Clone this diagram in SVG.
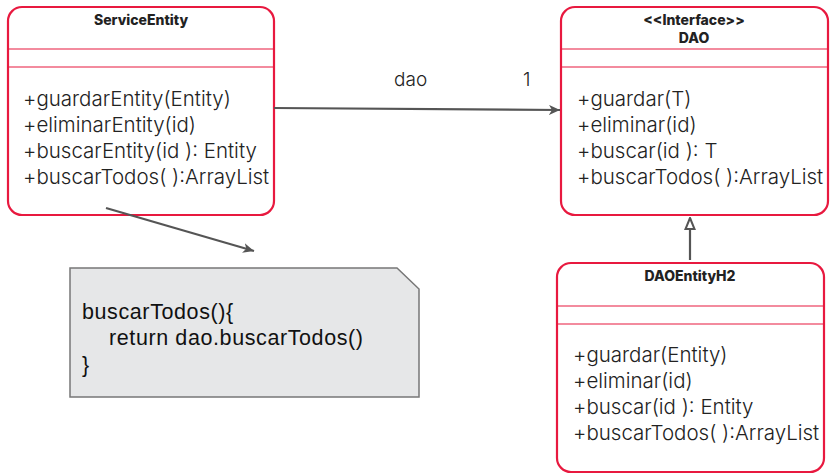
<svg xmlns="http://www.w3.org/2000/svg" width="833" height="475" viewBox="0 0 833 475">
<defs>
<style>
.box{fill:#fff;stroke:#e8193f;stroke-width:2.2}
.div{stroke:#e8193f;stroke-width:1.2}
.title{font-family:Inter,"Noto Sans",sans-serif;font-weight:800;font-size:14px;fill:#222;text-anchor:middle}
.m{font-family:Inter,"Noto Sans",sans-serif;font-weight:300;font-size:20.5px;fill:#222}
.lbl{font-family:Inter,"Noto Sans",sans-serif;font-weight:300;font-size:19px;fill:#222}
.conn{stroke:#555;stroke-width:2.2;fill:none}
.note{fill:#e6e7e8;stroke:#777;stroke-width:1.5}
.nt{font-family:"Liberation Sans",Arial,sans-serif;font-size:21.5px;letter-spacing:0.6px;fill:#111}
</style>
<marker id="open" viewBox="0 0 12 10" refX="11" refY="5" markerWidth="12" markerHeight="10" markerUnits="userSpaceOnUse" orient="auto">
<path d="M0,0 L11,5 L0,10 L3,5 Z" fill="#555"/>
</marker>
<marker id="tri" viewBox="0 0 12 14" refX="6" refY="1" markerWidth="12" markerHeight="14" markerUnits="userSpaceOnUse" orient="0">
<path d="M6,1 L10.5,12 L1.5,12 Z" fill="#fff" stroke="#555" stroke-width="2"/>
</marker>
</defs>
<rect width="833" height="475" fill="#fff"/>
<g id="ServiceEntity">
<rect class="box" x="8" y="7" width="266" height="208" rx="14"/>
<line class="div" x1="8" y1="49" x2="274" y2="49"/>
<line class="div" x1="8" y1="67" x2="274" y2="67"/>
<text class="title" x="141" y="25">ServiceEntity</text>
<text class="m" x="23" y="106">+guardarEntity(Entity)</text>
<text class="m" x="23" y="132">+eliminarEntity(id)</text>
<text class="m" x="23" y="158">+buscarEntity(id ): Entity</text>
<text class="m" x="23" y="184">+buscarTodos( ):ArrayList</text>
</g>
<g id="DAO">
<rect class="box" x="561" y="7" width="267" height="208" rx="14"/>
<line class="div" x1="561" y1="49" x2="828" y2="49"/>
<line class="div" x1="561" y1="67" x2="828" y2="67"/>
<text class="title" x="694" y="25">&lt;&lt;Interface&gt;&gt;</text>
<text class="title" x="694" y="43">DAO</text>
<text class="m" x="577" y="106">+guardar(T)</text>
<text class="m" x="577" y="132">+eliminar(id)</text>
<text class="m" x="577" y="158">+buscar(id ): T</text>
<text class="m" x="577" y="184">+buscarTodos( ):ArrayList</text>
</g>
<g id="DAOEntityH2">
<rect class="box" x="557" y="263" width="267" height="209" rx="14"/>
<line class="div" x1="557" y1="306" x2="824" y2="306"/>
<line class="div" x1="557" y1="324" x2="824" y2="324"/>
<text class="title" x="690" y="281">DAOEntityH2</text>
<text class="m" x="573" y="362">+guardar(Entity)</text>
<text class="m" x="573" y="388">+eliminar(id)</text>
<text class="m" x="573" y="414">+buscar(id ): Entity</text>
<text class="m" x="573" y="440">+buscarTodos( ):ArrayList</text>
</g>
<g id="note">
<path class="note" d="M70,268 L397,268 L419,289 L419,397 L70,397 Z"/>
<text class="nt" x="82" y="319">buscarTodos(){</text>
<text class="nt" x="109" y="345">return dao.buscarTodos()</text>
<text class="nt" x="82" y="372">}</text>
</g>
<g id="connectors">
<line class="conn" x1="274" y1="108" x2="560" y2="110" marker-end="url(#open)"/>
<line class="conn" x1="690" y1="260" x2="690" y2="218" marker-end="url(#tri)"/>
<line class="conn" x1="106" y1="208" x2="254" y2="251" marker-end="url(#open)"/>
<text class="lbl" x="394" y="86">dao</text>
<text class="lbl" x="523" y="86">1</text>
</g>
</svg>
